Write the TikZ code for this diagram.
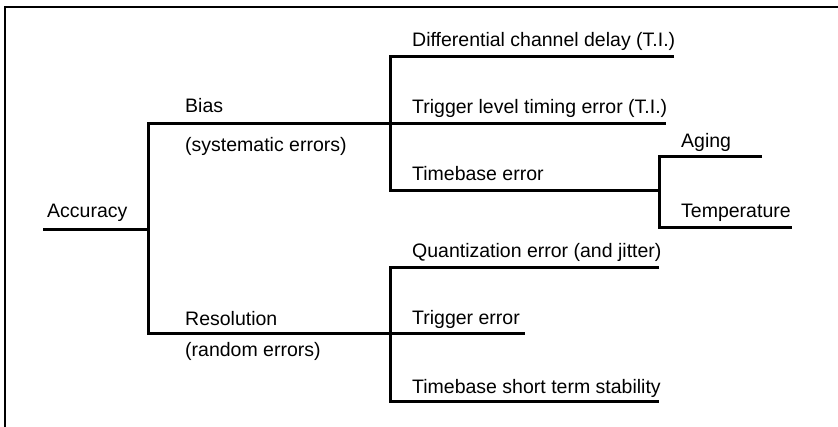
\documentclass[tikz,border=0pt]{standalone}
\usepackage{fontspec}
\setmainfont{Liberation Sans}
\usetikzlibrary{calc}

\tikzset{
    branch/.style={line width=3pt},
    lbl/.style={anchor=base west, inner sep=0pt, font=\fontsize{19.5}{23}\selectfont}
}

\begin{document}
\begin{tikzpicture}[x=1pt, y=-1pt]
        \useasboundingbox (0,0) rectangle (838,427);

        % frame (top and left edge only)
        \draw[line width=2.4pt] (5,427) -- (5,7) -- (838,7);

        % root
        \coordinate (acc) at (43,230);
        \coordinate (root) at (148,230);
        \node[lbl] (accL) at (47,218) {Accuracy};
        \draw[branch] (acc) -- (root);

        % first level: bias and resolution
        \coordinate (biasJ) at (390,124);
        \coordinate (resJ) at (390,334);
        \draw[branch] (biasJ) -| (root) |- (resJ);
        \node[lbl] (biasL) at (185,113) {Bias};
        \node[lbl] (biasS) at (185,152) {(systematic errors)};
        \node[lbl] (resL) at (185,326) {Resolution};
        \node[lbl] (resS) at (185,357) {(random errors)};

        % bias sub-branches
        \coordinate (diffE) at (674,57);
        \coordinate (trigE) at (666,124);
        \coordinate (tbJ) at (659,191);
        \draw[branch] (diffE) -| (biasJ) |- (tbJ);
        \draw[branch] (biasJ) -- (trigE);
        \node[lbl] (diffL) at (412,47) {Differential channel delay (T.I.)};
        \node[lbl] (trigL) at (412,114) {Trigger level timing error (T.I.)};
        \node[lbl] (tbL) at (412,181) {Timebase error};

        % timebase error causes
        \coordinate (agE) at (762,157);
        \coordinate (tmpE) at (792,228);
        \draw[branch] (agE) -| (tbJ) |- (tmpE);
        \node[lbl] (agL) at (681,148) {Aging};
        \node[lbl] (tmpL) at (681,218) {Temperature};

        % resolution sub-branches
        \coordinate (quE) at (659,268);
        \coordinate (trE) at (525,334);
        \coordinate (stE) at (659,402);
        \draw[branch] (quE) -| (resJ) |- (stE);
        \draw[branch] (resJ) -- (trE);
        \node[lbl] (quL) at (412,258) {Quantization error (and jitter)};
        \node[lbl] (trL) at (412,325) {Trigger error};
        \node[lbl] (stL) at (412,394) {Timebase short term stability};

\end{tikzpicture}
\end{document}
